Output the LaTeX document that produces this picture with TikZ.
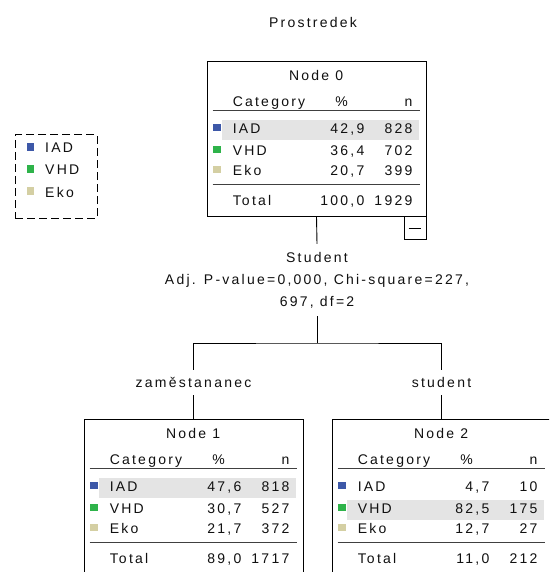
\documentclass[tikz,border=0pt]{standalone}
\usepackage{fontspec}
\setmainfont{Liberation Sans}[LetterSpace=16]
\definecolor{iadcol}{HTML}{3D58A8}
\definecolor{vhdcol}{HTML}{2EB34A}
\definecolor{ekocol}{HTML}{D4CFA3}
\definecolor{hlcol}{HTML}{E4E4E4}
\definecolor{inkcol}{HTML}{101010}

\tikzset{
  txt/.style={inner sep=0pt, text height=10pt, text depth=0pt, text=inkcol},
  treebox/.style={draw=black, line width=0.9pt, inner sep=0pt,
    minimum width=219pt, minimum height=155pt},
  rule/.style={draw=inkcol!80, line width=0.8pt},
  thickrule/.style={draw=inkcol!80, line width=1.4pt},
  link/.style={draw=black, line width=0.9pt},
  swatch/.style={inner sep=0pt, minimum width=7.5pt, minimum height=7.5pt},
  legendbox/.style={draw=black, line width=1pt, dash pattern=on 8pt off 4pt,
    inner sep=0pt, minimum width=82pt, minimum height=83pt},
  btnbox/.style={draw=black, line width=0.9pt, inner sep=0pt,
    minimum width=22pt, minimum height=23pt},
}

% header of a node table: #1 box name, #2 title
\newcommand\tablehead[2]{%
  \begin{scope}[shift={(#1.north west)}]
    \node[txt] (#1-title) at (109.5,15) {#2};
    \node[txt,anchor=west] (#1-cat) at (26,41) {Category};
    \node[txt] (#1-pc) at (135,41) {\%};
    \node[txt,anchor=east] (#1-n) at (206,41) {n};
    \draw[rule] (6,50) -- (213,50);
  \end{scope}}

% one category row: #1 box, #2 key, #3 y, #4 colour, #5 label, #6 percent, #7 count
\newcommand\tablerow[7]{%
  \begin{scope}[shift={(#1.north west)}]
    \node[swatch,fill=#4] (#1-#2-sw) at (10.5,{#3-1}) {};
    \node[txt,anchor=west] (#1-#2-lab) at (26,#3) {#5};
    \node[txt,anchor=east] (#1-#2-pc) at (158,#3) {#6};
    \node[txt,anchor=east] (#1-#2-n) at (206,#3) {#7};
  \end{scope}}

% highlighted band behind a row: #1 box, #2 y
\newcommand\rowband[2]{%
  \begin{scope}[shift={(#1.north west)}]
    \fill[hlcol] (15,{#2-9}) rectangle (212,{#2+11});
  \end{scope}}

% closing total line: #1 box, #2 percent, #3 count
\newcommand\tabletotal[3]{%
  \begin{scope}[shift={(#1.north west)}]
    \draw[thickrule] (6,124) -- (213,124);
    \node[txt,anchor=west] (#1-tot) at (26,140) {Total};
    \node[txt,anchor=east] (#1-tot-pc) at (158,140) {#2};
    \node[txt,anchor=east] (#1-tot-n) at (206,140) {#3};
  \end{scope}}

\begin{document}
\begin{tikzpicture}[x=1pt,y=-1pt,font=\fontsize{14}{22}\selectfont]
  \useasboundingbox (0,0) rectangle (549,572);
  \clip (0,0) rectangle (549,572);
  \fill[white] (0,0) rectangle (549,572);

  % heading
  \node[txt] (heading) at (313,23) {Prostredek};

  % legend
  \node[legendbox] (legend) at (56,176.5) {};
  \node[swatch,fill=iadcol] (lg-iad-sw) at (30.5,147) {};
  \node[txt,anchor=west] (lg-iad) at (45,148) {IAD};
  \node[swatch,fill=vhdcol] (lg-vhd-sw) at (30.5,169) {};
  \node[txt,anchor=west] (lg-vhd) at (45,170) {VHD};
  \node[swatch,fill=ekocol] (lg-eko-sw) at (30.5,191) {};
  \node[txt,anchor=west] (lg-eko) at (45,192) {Eko};

  % root node
  \node[treebox] (n0) at (316.5,138.5) {};
  \rowband{n0}{68}
  \tablehead{n0}{Node 0}
  \tablerow{n0}{iad}{68}{iadcol}{IAD}{42,9}{828}
  \tablerow{n0}{vhd}{90}{vhdcol}{VHD}{36,4}{702}
  \tablerow{n0}{eko}{110}{ekocol}{Eko}{20,7}{399}
  \tabletotal{n0}{100,0}{1929}
  \node[btnbox,anchor=north east] (n0btn) at (n0.south east) {};
  \draw[link] ([xshift=5pt]n0btn.west) -- ([xshift=-5pt]n0btn.east);

  % split description
  \node[inner sep=0pt, minimum height=72pt, align=center, text=inkcol]
    (split0) at (317,280) {Student\\Adj. P-value=0,000, Chi-square=227,\\697, df=2};
  \draw[link] (n0.south) -- (split0.north);
  \coordinate (fork) at (317,343);
  \draw[link] (split0.south) -- (fork);

  % branch labels
  \node[txt, minimum height=25pt] (zam) at (193.5,382.5) {zaměstananec};
  \node[txt, minimum height=25pt] (stu) at (441.5,382.5) {student};
  \draw[link] (zam.north) |- (fork) -| (stu.north);

  % child nodes
  \node[treebox] (n1) at (193.5,496.5) {};
  \node[treebox] (n2) at (441.5,496.5) {};
  \draw[link] (zam.south) -- (n1.north);
  \draw[link] (stu.south) -- (n2.north);

  \rowband{n1}{68}
  \tablehead{n1}{Node 1}
  \tablerow{n1}{iad}{68}{iadcol}{IAD}{47,6}{818}
  \tablerow{n1}{vhd}{90}{vhdcol}{VHD}{30,7}{527}
  \tablerow{n1}{eko}{110}{ekocol}{Eko}{21,7}{372}
  \tabletotal{n1}{89,0}{1717}

  \rowband{n2}{90}
  \tablehead{n2}{Node 2}
  \tablerow{n2}{iad}{68}{iadcol}{IAD}{4,7}{10}
  \tablerow{n2}{vhd}{90}{vhdcol}{VHD}{82,5}{175}
  \tablerow{n2}{eko}{110}{ekocol}{Eko}{12,7}{27}
  \tabletotal{n2}{11,0}{212}
\end{tikzpicture}
\end{document}
